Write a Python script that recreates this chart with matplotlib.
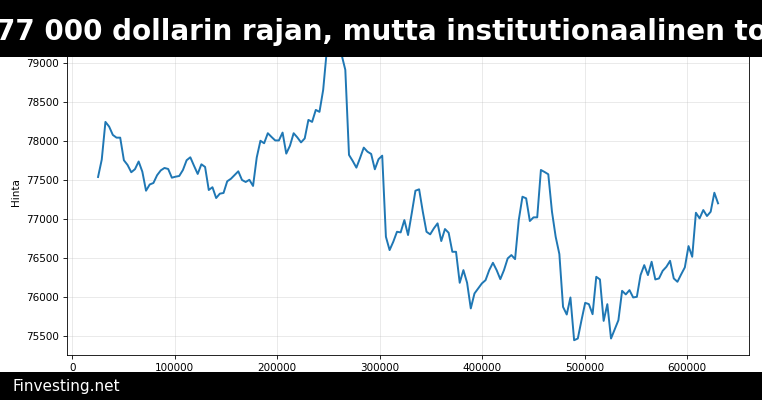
import numpy as np
import matplotlib.pyplot as plt
from matplotlib.patches import Rectangle

# Chart text
title_text = "77 000 dollarin rajan, mutta institutionaalinen to"
brand_text = "Finvesting.net"
y_label = "Hinta"

# Sample positions: every 3600 steps from index 7 to 175
first_index = 7
last_index = 175
index_step = 3600

# Price series
prices = [
    77541, 77764, 78248, 78188, 78081, 78046, 78046, 77756, 77695, 77602,
    77641, 77740, 77609, 77365, 77445, 77464, 77564, 77626, 77657, 77644,
    77532, 77545, 77554, 77631, 77756, 77794, 77685, 77580, 77704, 77670,
    77374, 77410, 77271, 77327, 77336, 77486, 77518, 77567, 77614, 77503,
    77477, 77505, 77426, 77792, 78006, 77974, 78103, 78055, 78010, 78010,
    78111, 77841, 77942, 78103, 78049, 77985, 78036, 78274, 78248, 78402,
    78377, 78659, 79174, 79238, 79199, 79212, 79109, 78916, 77824, 77747,
    77661, 77785, 77918, 77866, 77837, 77640, 77769, 77815, 76774, 76603,
    76710, 76838, 76830, 76988, 76796, 77075, 77365, 77383, 77095, 76838,
    76805, 76882, 76946, 76719, 76873, 76825, 76581, 76581, 76183, 76346,
    76183, 75854, 76046, 76111, 76175, 76217, 76346, 76440, 76346, 76230,
    76346, 76496, 76539, 76487, 76988, 77288, 77267, 76976, 77023, 77023,
    77631, 77605, 77576, 77095, 76774, 76552, 75874, 75776, 75995, 75446,
    75468, 75703, 75926, 75909, 75780, 76260, 76226, 75694, 75909, 75468,
    75584, 75703, 76080, 76034, 76089, 75995, 76003, 76282, 76410, 76282,
    76453, 76226, 76239, 76337, 76388, 76465, 76239, 76196, 76291, 76381,
    76654, 76517, 77082, 77010, 77117, 77040, 77095, 77339, 77203,
]

x = np.arange(first_index, last_index + 1) * index_step

# the source chart looks like it was rendered bigger and scaled down
plt.rcParams.update({
    "font.size": 7.5,
    "axes.linewidth": 0.6,
    "xtick.major.size": 2.9,
    "ytick.major.size": 2.9,
    "xtick.major.width": 0.6,
    "ytick.major.width": 0.6,
    "xtick.major.pad": 2.7,
    "ytick.major.pad": 2.7,
    "grid.linewidth": 0.6,
})

fig = plt.figure(figsize=(7.62, 4.0), dpi=100)
ax = fig.add_axes([0.088, 0.1125, 0.895, 0.8125])

ax.plot(x, prices, color="#1f77b4", linewidth=1.4)
ax.set_ylabel(y_label)
ax.grid(True, alpha=0.3)

# Black banners over the top and bottom of the figure
fig.patches.append(Rectangle((0, 1 - 57 / 400), 1, 57 / 400, transform=fig.transFigure,
                             facecolor="black", edgecolor="none", zorder=10))
fig.patches.append(Rectangle((0, 0), 1, 28 / 400, transform=fig.transFigure,
                             facecolor="black", edgecolor="none", zorder=10))

fig.text(0.5, 1 - 32 / 400, title_text, color="white", fontsize=20, fontweight="bold",
         ha="center", va="center", zorder=11)
fig.text(12 / 762, 14 / 400, brand_text, color="white", fontsize=11,
         ha="left", va="center", zorder=11)

fig.savefig("out.png", dpi=100)
